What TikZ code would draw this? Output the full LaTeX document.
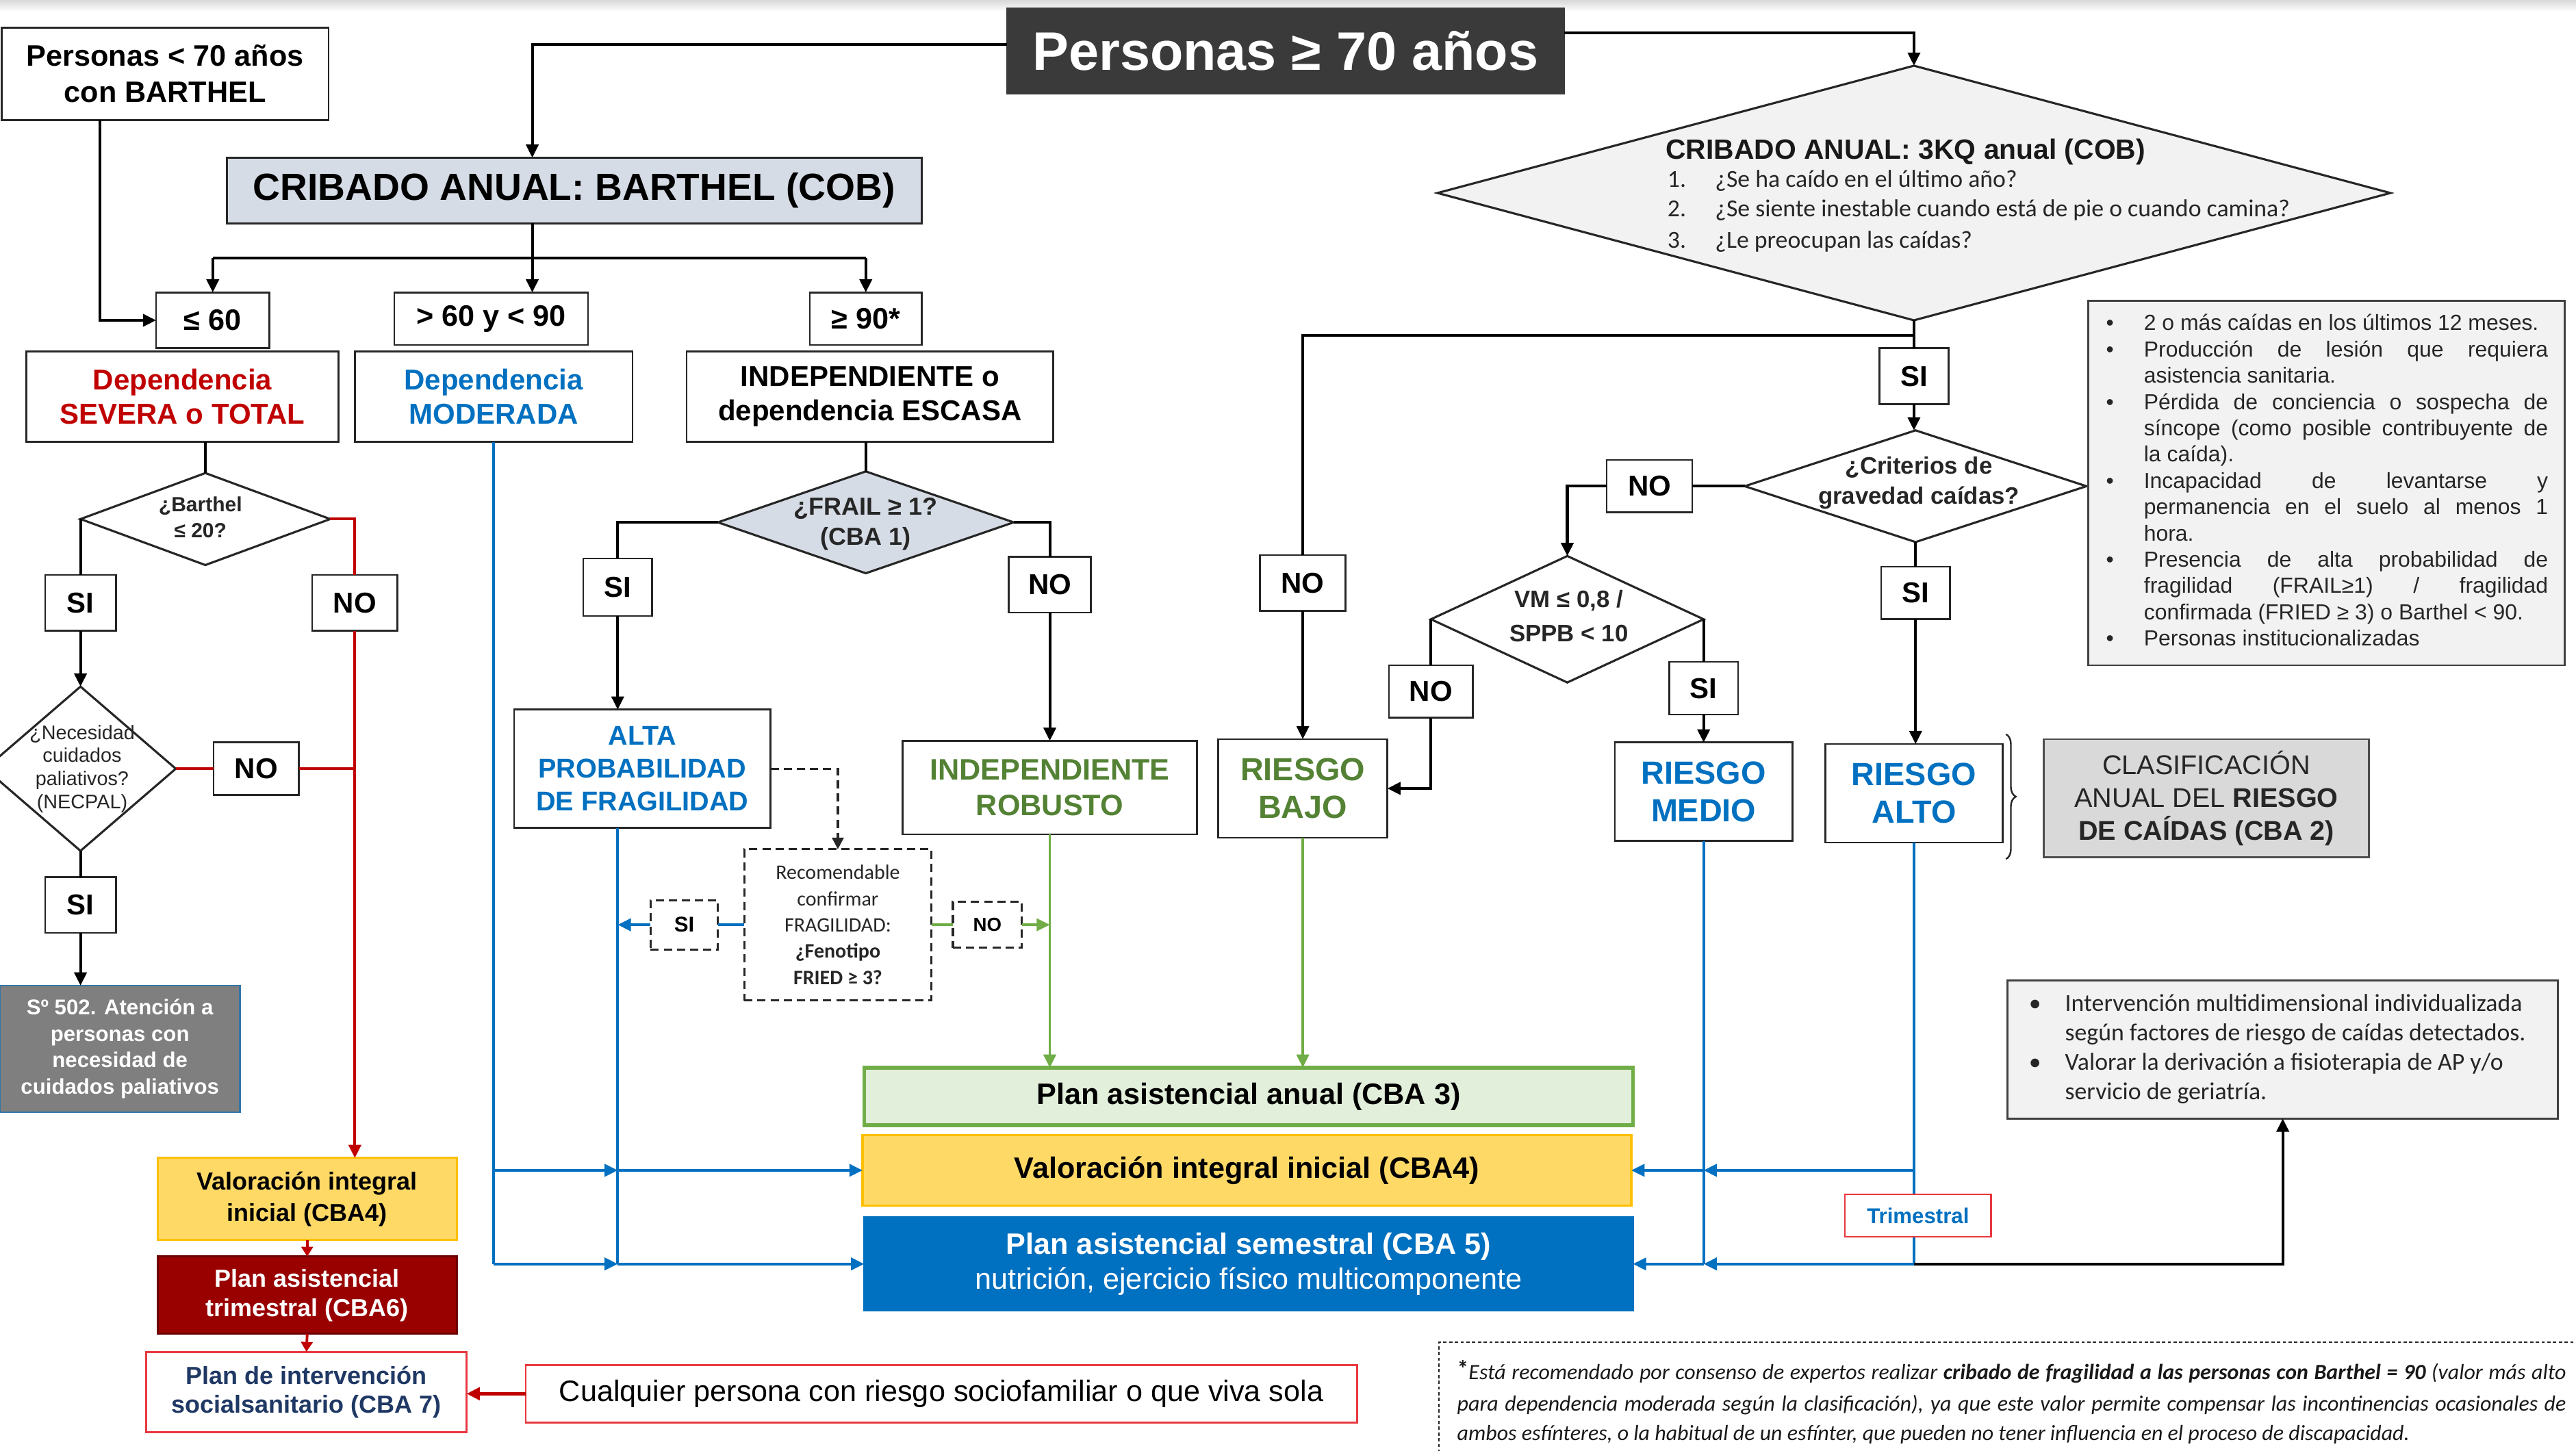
\documentclass[tikz,border=0pt]{standalone}
\usepackage{fontspec}
\setmainfont{Liberation Sans}
\newfontfamily\carl{Carlito}
\usetikzlibrary{shapes.geometric,arrows.meta,decorations.pathreplacing,calc}
\newcommand{\fs}[2]{\fontsize{#1}{#2}\selectfont}
\newcommand{\jl}[1]{\makebox[\linewidth][s]{#1}}
\definecolor{dk}{HTML}{3A3A3A}
\definecolor{cribf}{HTML}{D6DCE5}
\definecolor{rd}{HTML}{C00000}
\definecolor{rdl}{HTML}{E8383F}
\definecolor{blu}{HTML}{0070C0}
\definecolor{gtx}{HTML}{548235}
\definecolor{grl}{HTML}{70AD47}
\definecolor{yl}{HTML}{FFD966}
\definecolor{ylb}{HTML}{FFC000}
\definecolor{drd}{HTML}{990000}
\definecolor{gpal}{HTML}{7F7F7F}
\definecolor{lg}{HTML}{F2F2F2}
\definecolor{mg}{HTML}{D9D9D9}
\definecolor{anf}{HTML}{E2EFDA}
\definecolor{nv}{HTML}{1F3864}
\tikzset{
  every node/.style={inner sep=0pt, outer sep=0pt},
  bx/.style={draw=black!85, line width=1.1pt, fill=white, align=center},
  wh/.style 2 args={minimum width=#1pt, minimum height=#2pt},
  lab/.style={bx, font=\bfseries\fs{17.5}{20}},
  dia/.style={diamond, draw=black!85, line width=1.3pt, fill=white, aspect=1},
  atip/.style={-{Triangle[length=8pt,width=7.5pt]}},
  ln/.style={line width=1.7pt, draw=black},
  arr/.style={ln, atip},
  rln/.style={line width=1.6pt, draw=rd},
  rarr/.style={rln, atip},
  bln/.style={line width=1.6pt, draw=blu},
  barr/.style={bln, atip},
  gln/.style={line width=1.6pt, draw=grl},
  garr/.style={gln, atip},
  dsh/.style={draw=black!85, line width=1.3pt, dash pattern=on 5pt off 3pt},
}
\begin{document}
\begin{tikzpicture}[x=1pt,y=-1pt]
\useasboundingbox (0,0) rectangle (1568,883);
\fill[white] (0,0) rectangle (1568,883);
\shade[top color=black!15, bottom color=white] (0,0) rectangle (1568,7);

% ---------- top ----------
\node[bx, wh={339}{52}, fill=dk, draw=dk, text=white, font=\bfseries\fs{33}{36}] (t70) at (782.5,31) {Personas ≥ 70 años};
\node[bx, wh={199}{56}, font=\bfseries\fs{18}{22}] (p70) at (100.5,45) {Personas < 70 años\\con BARTHEL};
\node[bx, wh={423}{40}, fill=cribf, font=\bfseries\fs{23}{26}] (crib) at (349.5,116) {CRIBADO ANUAL: BARTHEL (COB)};

\node[bx, wh={69}{34}, font=\bfseries\fs{18}{20}] (le60) at (129.5,195) {≤ 60};
\node[bx, wh={118}{32}, font=\bfseries\fs{18}{20}] (mid) at (299,194) {> 60 y < 90};
\node[bx, wh={68}{32}, font=\bfseries\fs{18}{20}] (ge90) at (527,194) {≥ 90*};

\node[bx, wh={190}{55}, text=rd, font=\bfseries\fs{17.5}{21}] (sev) at (111,241.5) {Dependencia\\SEVERA o TOTAL};
\node[bx, wh={169}{55}, text=blu, font=\bfseries\fs{17.5}{21}] (mod) at (300.5,241.5) {Dependencia\\MODERADA};
\node[bx, wh={223}{55}, font=\bfseries\fs{17.5}{21}] (ind) at (529.5,241.5) {INDEPENDIENTE o\\dependencia ESCASA};

\coordinate (c1) at (324,27);
\draw[arr] (t70.west |- c1) -- (c1) -- (c1 |- crib.north);
\coordinate (c2) at (1165,20);
\draw[arr] (t70.east |- c2) -- (c2) -- (c2 |- 0,40);
\coordinate (c3) at (61,195);
\draw[arr] (c3 |- p70.south) -- (c3) -- (le60.west);
\coordinate (c4) at (324,157);
\coordinate (c5) at (129.5,157);
\coordinate (c6) at (527,157);
\draw[ln] (c4 |- crib.south) -- (c4);
\draw[arr] (c4) -- (c4 |- mid.north);
\draw[ln] (c5) -- (c6);
\draw[arr] (c5) -- (le60.north);
\draw[arr] (c6) -- (ge90.north);

% ---------- severe branch ----------
\node[dia, wh={152}{56}] (d20) at (125,316) {};
\node[font=\bfseries\fs{12.5}{16}, align=center, text=black!85] at (122,315) {¿Barthel\\≤ 20?};
\node[lab, wh={43}{34}] (s1) at (49,367) {SI};
\node[lab, wh={52}{34}] (n1) at (216,367) {NO};
\node[dia, wh={116}{100}] (necpal) at (49,468) {};
\node[font=\fs{12}{14}, align=center, text=black!85] at (50,468) {¿Necesidad\\cuidados\\paliativos?\\(NECPAL)};
\node[lab, wh={52}{32}] (n2) at (156,468) {NO};
\node[lab, wh={43}{34}] (s2) at (49,551) {SI};
\node[bx, wh={146}{77}, fill=gpal, draw=blu!60!gray, line width=1pt, text=white, font=\bfseries\fs{13}{16}] (pal) at (73,638.5) {Sº 502. Atención a\\personas con\\necesidad de\\cuidados paliativos};

\draw[ln] (d20.north |- sev.south) -- (d20.north);
\draw[ln] (d20.west) -- (s1.north);
\draw[arr] (s1.south) -- (s1.south |- necpal.north);
\draw[ln] (necpal.south) -- (s2.north);
\draw[arr] (s2.south) -- (s2.south |- pal.north);

\node[bx, wh={182}{50}, fill=yl, draw=ylb, line width=1.2pt, font=\bfseries\fs{15}{19}] (vl) at (187,730) {Valoración integral\\inicial (CBA4)};
\node[bx, wh={182}{47}, fill=drd, draw=drd!70!black, line width=1.2pt, text=white, font=\bfseries\fs{15}{18}] (pt) at (187,788.5) {Plan asistencial\\trimestral (CBA6)};
\node[bx, wh={195}{49}, draw=rdl, line width=1.2pt, text=nv, font=\bfseries\fs{15}{17.5}] (ps) at (186.5,847.5) {Plan de intervención\\socialsanitario (CBA 7)};
\node[bx, wh={506}{35}, draw=rdl, line width=1.2pt, font=\fs{18}{20}] (cual) at (573,848.5) {Cualquier persona con riesgo sociofamiliar o que viva sola};

\coordinate (c7) at (216,316);
\draw[rln] (d20.east) -- (c7) -- (n1.north);
\draw[rarr] (n1.south) -- (n1.south |- vl.north);
\draw[rln] (necpal.east) -- (n2.west);
\draw[rln] (n2.east) -- (n2.east -| n1.south);
\draw[rln, -{Triangle[length=6pt,width=7pt]}] (vl.south) -- (pt.north);
\draw[rln, -{Triangle[length=6pt,width=7pt]}] (pt.south) -- (ps.north);
\draw[rarr, line width=2pt] (cual.west) -- (ps.east |- cual.west);

% ---------- independiente branch ----------
\node[dia, wh={180}{62}, fill=cribf] (frail) at (527,318) {};
\node[font=\bfseries\fs{15}{18}, align=center, text=black!85] at (527,319) {¿FRAIL ≥ 1?\\(CBA 1)};
\node[lab, wh={42}{35}] (sfr) at (376,357.5) {SI};
\node[lab, wh={50}{34}] (nfr) at (639,356) {NO};
\node[bx, wh={156}{72}, text=blu, font=\bfseries\fs{16.5}{20}] (alta) at (391,468) {ALTA\\PROBABILIDAD\\DE FRAGILIDAD};
\node[bx, wh={179}{57}, text=gtx, font=\bfseries\fs{18}{22}] (rob) at (639,479.5) {INDEPENDIENTE\\ROBUSTO};
\node[dsh, fill=white, wh={114}{92}, align=center, font=\carl\fs{12.5}{16}, text=black!85] (rec) at (510,563) {Recomendable\\confirmar\\FRAGILIDAD:\\\textbf{¿Fenotipo}\\\textbf{FRIED ≥ 3?}};
\node[dsh, fill=white, wh={41}{30}, font=\bfseries\fs{13}{15}] (sid) at (416.5,563) {SI};
\node[dsh, fill=white, wh={42}{28}, font=\bfseries\fs{11.5}{13}] (nod) at (601,563) {NO};
\coordinate (ax) at (376,0);

\draw[ln] (frail.north |- ind.south) -- (frail.north);
\draw[ln] (frail.west) -- (frail.west -| sfr.north) -- (sfr.north);
\draw[arr] (sfr.south) -- (sfr.south |- alta.north);
\draw[ln] (frail.east) -- (frail.east -| nfr.north) -- (nfr.north);
\draw[arr] (nfr.south) -- (nfr.south |- rob.north);
\draw[dsh, -{Triangle[length=7pt,width=7pt]}] (alta.east) -- (alta.east -| rec.north) -- (rec.north);
\draw[bln] (rec.west) -- (sid.east);
\draw[barr] (sid.west) -- (sid.west -| ax);
\draw[gln] (rec.east) -- (nod.west);
\draw[garr] (nod.east) -- (nod.east -| rob.south);

% ---------- central plans ----------
\node[bx, wh={468}{35}, fill=anf, draw=grl, line width=2.2pt, font=\bfseries\fs{18}{20}] (anual) at (760,667.5) {Plan asistencial anual (CBA 3)};
\node[bx, wh={468}{43}, fill=yl, draw=ylb, line width=1.5pt, font=\bfseries\fs{18}{20}] (vin) at (759,712.5) {Valoración integral inicial (CBA4)};
\node[bx, wh={468}{57}, fill=blu, draw=blu, text=white, font=\fs{18}{21.5}] (sem) at (760,769.5) {\textbf{Plan asistencial semestral (CBA 5)}\\nutrición, ejercicio físico multicomponente};

\draw[bln] (mod.south) -- (mod.south |- sem.west);
\draw[bln] (ax |- alta.south) -- (ax |- sem.west);
\draw[barr] (mod.south |- vin.west) -- (ax |- vin.west);
\draw[barr] (ax |- vin.west) -- (vin.west);
\draw[barr] (mod.south |- sem.west) -- (ax |- sem.west);
\draw[barr] (ax |- sem.west) -- (sem.west);
\draw[garr] (rob.south) -- (rob.south |- anual.north);

% ---------- right: falls ----------
\node[dia, wh={580}{155}, fill=lg] (kq) at (1165,117.5) {};
\node[anchor=base west, font=\bfseries\fs{17}{20}, text=black!90] at (1014,97) {CRIBADO ANUAL: 3KQ anual (COB)};
\node[anchor=base west, font=\carl\fs{14.9}{18}, text=black!85] at (1015,114) {\makebox[29pt][l]{1.}¿Se ha caído en el último año?};
\node[anchor=base west, font=\carl\fs{14.9}{18}, text=black!85] at (1015,132) {\makebox[29pt][l]{2.}¿Se siente inestable cuando está de pie o cuando camina?};
\node[anchor=base west, font=\carl\fs{14.9}{18}, text=black!85] at (1015,151) {\makebox[29pt][l]{3.}¿Le preocupan las caídas?};

\node[lab, wh={42}{34}] (skq) at (1165,229) {SI};
\node[dia, wh={208}{68}] (crit) at (1166,296) {};
\node[font=\bfseries\fs{14.5}{18}, align=center, text=black!85] at (1168,294) {¿Criterios de\\gravedad caídas?};
\node[lab, wh={52}{32}] (ncr) at (1004,296) {NO};
\node[lab, wh={42}{32}] (scr) at (1166,361) {SI};
\node[lab, wh={52}{34}] (nbj) at (793,355) {NO};
\node[dia, wh={166}{77}] (vm) at (954,377) {};
\node[font=\bfseries\fs{14.5}{21}, align=center, text=black!85] at (955,375) {VM ≤ 0,8 /\\SPPB < 10};
\node[lab, wh={51}{32}] (nvm) at (871,421) {NO};
\node[lab, wh={42}{32}] (svm) at (1037,419) {SI};

\node[bx, wh={103}{60}, text=gtx, font=\bfseries\fs{19.5}{23}] (bajo) at (793,480) {RIESGO\\BAJO};
\node[bx, wh={108}{60}, text=blu, font=\bfseries\fs{19.5}{23}] (medio) at (1037,482) {RIESGO\\MEDIO};
\node[bx, wh={108}{60}, text=blu, font=\bfseries\fs{19.5}{23}] (alto) at (1165,483) {RIESGO\\ALTO};
\node[bx, wh={198}{72}, fill=mg, draw=black!70, line width=1.2pt, text=black!85, font=\fs{16.5}{20}] (clas) at (1343,486) {CLASIFICACIÓN\\ANUAL DEL \textbf{RIESGO}\\\textbf{DE CAÍDAS (CBA 2)}};
\draw[line width=1pt, black!85, decorate, decoration={brace, amplitude=6pt}] (1221,447) -- (1221,523);

\node[fill=lg, draw=black!75, line width=1.1pt, wh={290}{222}, text=black!85, font=\fs{13.3}{16}] (info) at (1416,294) {%
\begin{tabular}{@{\hspace{11pt}}p{23pt}@{}p{246pt}@{\hspace{10pt}}}
• & 2 o más caídas en los últimos 12 meses.\\
• & \jl{Producción de lesión que requiera}\newline asistencia sanitaria.\\
• & \jl{Pérdida de conciencia o sospecha de}\newline\jl{síncope (como posible contribuyente de}\newline la caída).\\
• & \jl{Incapacidad de levantarse y}\newline\jl{permanencia en el suelo al menos 1}\newline hora.\\
• & \jl{Presencia de alta probabilidad de}\newline\jl{fragilidad (FRAIL≥1) / fragilidad}\newline confirmada (FRIED ≥ 3) o Barthel < 90.\\
• & Personas institucionalizadas
\end{tabular}};

\node[fill=lg, draw=black!75, line width=1.1pt, wh={335}{84}, text=black!85, font=\carl\fs{14.9}{18}] (interv) at (1389.5,639) {%
\begin{tabular}{@{\hspace{13pt}}p{22pt}@{}p{285pt}@{\hspace{15pt}}}
• & Intervención multidimensional individualizada\newline según factores de riesgo de caídas detectados.\\
• & Valorar la derivación a fisioterapia de AP y/o\newline servicio de geriatría.
\end{tabular}};

\coordinate (c8) at (1165,204);
\coordinate (c9) at (793,204);
\draw[ln] (kq.south) -- (skq.north);
\draw[ln] (c8) -- (c9) -- (nbj.north);
\draw[arr] (nbj.south) -- (nbj.south |- bajo.north);
\draw[arr] (skq.south) -- (skq.south |- crit.north);
\draw[ln] (crit.west) -- (ncr.east);
\draw[arr] (ncr.west) -- (ncr.west -| vm.north) -- (vm.north);
\draw[ln] (crit.south) -- (scr.north);
\draw[arr] (scr.south) -- (scr.south |- alto.north);
\draw[ln] (vm.west) -- (nvm.north);
\draw[arr] (nvm.south) -- (nvm.south |- bajo.east) -- (bajo.east);
\draw[ln] (vm.east) -- (svm.north);
\draw[arr] (svm.south) -- (svm.south |- medio.north);
\draw[garr] (bajo.south) -- (bajo.south |- anual.north);

\draw[bln] (medio.south) -- (medio.south |- sem.east);
\draw[bln] (alto.south) -- (alto.south |- sem.east);
\draw[barr] (alto.south |- vin.east) -- (medio.south |- vin.east);
\draw[barr] (medio.south |- vin.east) -- (vin.east);
\draw[barr] (alto.south |- sem.east) -- (medio.south |- sem.east);
\draw[barr] (medio.south |- sem.east) -- (sem.east);
\draw[arr] (alto.south |- sem.east) -- (interv.south |- sem.east) -- (interv.south);
\node[bx, wh={89}{26}, draw=rdl, line width=1pt, text=blu, font=\bfseries\fs{13}{15}] (tri) at (1167.5,740) {Trimestral};

% ---------- footnote ----------
\node[draw=black!85, line width=0.9pt, dash pattern=on 2pt off 1.5pt, anchor=north west, wh={720}{80}] (fn) at (876,817) {};
\node[anchor=base west, font=\carl\itshape\fs{13.3}{18}, text=black!90] at (887,840) {\makebox[675pt][s]{\raisebox{2pt}{\upshape\bfseries\fs{14}{14}*}Está recomendado por consenso de expertos realizar \textbf{cribado de fragilidad a las personas con Barthel = 90} (valor más alto}};
\node[anchor=base west, font=\carl\itshape\fs{13.3}{18}, text=black!90] at (887,859) {\makebox[675pt][s]{para dependencia moderada según la clasificación), ya que este valor permite compensar las incontinencias ocasionales de}};
\node[anchor=base west, font=\carl\itshape\fs{13.3}{18}, text=black!90] at (887,877) {ambos esfínteres, o la habitual de un esfínter, que pueden no tener influencia en el proceso de discapacidad.};
\end{tikzpicture}
\end{document}
